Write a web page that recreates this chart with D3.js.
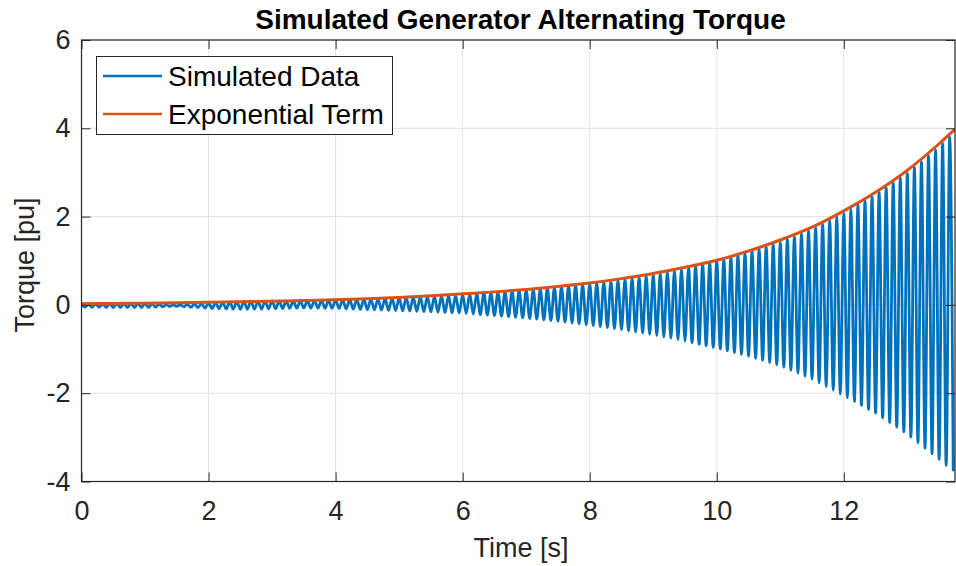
<!DOCTYPE html>
<html lang="en">
<head>
<meta charset="utf-8">
<title>Simulated Generator Alternating Torque</title>
<style>
  body { margin: 0; background: #fff; }
  svg { display: block; font-family: "Liberation Sans", Arial, Helvetica, sans-serif; }
  .tick text { fill: #262626; }
</style>
</head>
<body>
<svg id="chart" width="956" height="566"></svg>
<script src="https://cdn.jsdelivr.net/npm/d3@7"></script>
<script>
// values
const envTime = [0, 0.5, 1, 1.5, 2, 2.5, 3, 3.5, 4, 4.5, 5, 5.5, 6, 6.5, 7, 7.5, 8, 8.5, 9, 9.5, 10, 10.5, 11, 11.5, 12, 12.5, 13, 13.5, 13.75];
const expTerm = [0.028, 0.034, 0.040, 0.048, 0.058, 0.069, 0.082, 0.099, 0.118, 0.142, 0.170, 0.205, 0.250, 0.295, 0.350, 0.418, 0.495, 0.595, 0.712, 0.852, 1.010, 1.220, 1.470, 1.760, 2.130, 2.550, 3.050, 3.650, 3.980];
// upper / lower peaks of the simulated trace
const simUpper = [0.02, 0.03, 0.03, 0.00, 0.04, 0.08, 0.09, 0.09, 0.11, 0.13, 0.16, 0.19, 0.23, 0.28, 0.33, 0.40, 0.48, 0.57, 0.69, 0.83, 0.99, 1.19, 1.42, 1.72, 2.08, 2.49, 2.98, 3.58, 3.92];
const simLower = [-0.05, -0.06, -0.06, -0.03, -0.08, -0.10, -0.09, -0.07, -0.08, -0.11, -0.13, -0.16, -0.19, -0.24, -0.30, -0.37, -0.46, -0.56, -0.68, -0.82, -0.98, -1.16, -1.38, -1.68, -2.06, -2.45, -2.93, -3.50, -3.80];
const oscFreq = 9.0; // Hz, from spike spacing
const xTicks = [0, 2, 4, 6, 8, 10, 12];
const yTicks = [-4, -2, 0, 2, 4, 6];
const seriesNames = ["Simulated Data", "Exponential Term"];
const seriesColors = ["#0072BD", "#D95319"];

const padL = 81.5, padR = 955, padT = 40, padB = 481.5;
const fontSz = 27;
const svg = d3.select("#chart");

const x = d3.scaleLinear().domain([0, 13.75]).range([padL, padR]);
const y = d3.scaleLinear().domain([-4, 6]).range([padB, padT]);

// grid
svg.append("g").selectAll("line").data(xTicks).enter().append("line")
  .attr("x1", d => x(d)).attr("x2", d => x(d))
  .attr("y1", padT).attr("y2", padB)
  .attr("stroke", "#e3e3e3").attr("stroke-width", 1);
svg.append("g").selectAll("line").data(yTicks).enter().append("line")
  .attr("x1", padL).attr("x2", padR)
  .attr("y1", d => y(d)).attr("y2", d => y(d))
  .attr("stroke", "#e3e3e3").attr("stroke-width", 1);

// simulated trace: alternating peaks/troughs along the read envelopes
const upScale = d3.scaleLinear().domain(envTime).range(simUpper);
const loScale = d3.scaleLinear().domain(envTime).range(simLower);
const halfPeriod = 0.5 / oscFreq;
const simPts = [];
for (let k = 0; k * halfPeriod <= 13.75; k++) {
  const t = k * halfPeriod;
  simPts.push([t, k % 2 === 0 ? upScale(t) : loScale(t)]);
}

svg.append("clipPath").attr("id", "clip").append("rect")
  .attr("x", padL).attr("y", padT).attr("width", padR - padL).attr("height", padB - padT);

const plot = svg.append("g").attr("clip-path", "url(#clip)");
plot.append("path")
  .datum(simPts)
  .attr("d", d3.line().x(d => x(d[0])).y(d => y(d[1])).curve(d3.curveMonotoneX))
  .attr("fill", "none")
  .attr("stroke", seriesColors[0])
  .attr("stroke-width", 2.8);

plot.append("path")
  .datum(envTime.map((t, i) => [t, expTerm[i]]))
  .attr("d", d3.line().x(d => x(d[0])).y(d => y(d[1])).curve(d3.curveMonotoneX))
  .attr("fill", "none")
  .attr("stroke", seriesColors[1])
  .attr("stroke-width", 3);

// axes (box with inward ticks)
const tickLen = 9;
svg.append("g").attr("transform", `translate(0,${padB})`)
  .call(d3.axisBottom(x).tickValues(xTicks).tickSizeInner(-tickLen).tickSizeOuter(0).tickPadding(19).tickFormat(d => String(d)))
  .call(g => g.select(".domain").remove())
  .call(g => g.selectAll("line").attr("stroke", "#262626"))
  .call(g => g.selectAll("text").attr("font-size", fontSz).attr("font-family", "Liberation Sans, Arial, sans-serif"));
svg.append("g").attr("transform", `translate(0,${padT})`)
  .call(d3.axisTop(x).tickValues(xTicks).tickSizeInner(-tickLen).tickSizeOuter(0).tickFormat(""))
  .call(g => g.select(".domain").remove())
  .call(g => g.selectAll("line").attr("stroke", "#262626"));
svg.append("g").attr("transform", `translate(${padL},0)`)
  .call(d3.axisLeft(y).tickValues(yTicks).tickSizeInner(-tickLen).tickSizeOuter(0).tickPadding(11).tickFormat(d => String(d)))
  .call(g => g.select(".domain").remove())
  .call(g => g.selectAll("line").attr("stroke", "#262626"))
  .call(g => g.selectAll("text").attr("font-size", fontSz).attr("font-family", "Liberation Sans, Arial, sans-serif"));
svg.append("g").attr("transform", `translate(${padR},0)`)
  .call(d3.axisRight(y).tickValues(yTicks).tickSizeInner(-tickLen).tickSizeOuter(0).tickFormat(""))
  .call(g => g.select(".domain").remove())
  .call(g => g.selectAll("line").attr("stroke", "#262626"));

svg.append("rect")
  .attr("x", padL).attr("y", padT).attr("width", padR - padL).attr("height", padB - padT)
  .attr("fill", "none").attr("stroke", "#262626").attr("stroke-width", 1.2);

// labels
svg.append("text")
  .attr("x", 520.5).attr("y", 28.5)
  .attr("text-anchor", "middle")
  .attr("font-size", 28).attr("font-weight", "bold").attr("fill", "#000")
  .text("Simulated Generator Alternating Torque");
svg.append("text")
  .attr("x", 521).attr("y", 557)
  .attr("text-anchor", "middle")
  .attr("font-size", fontSz).attr("fill", "#262626")
  .text("Time [s]");
svg.append("text")
  .attr("transform", `translate(34,265) rotate(-90)`)
  .attr("text-anchor", "middle")
  .attr("font-size", fontSz).attr("fill", "#262626")
  .text("Torque [pu]");

// legend
const legend = svg.append("g");
legend.append("rect")
  .attr("x", 96.5).attr("y", 56.5).attr("width", 296).attr("height", 78)
  .attr("fill", "#fff").attr("stroke", "#262626").attr("stroke-width", 1);
const items = legend.selectAll("g.item").data(seriesNames).enter().append("g").attr("class", "item")
  .attr("transform", (d, i) => `translate(0,${76 + i * 38})`);
items.append("line")
  .attr("x1", 103).attr("x2", 162).attr("y1", 0).attr("y2", 0)
  .attr("stroke", (d, i) => seriesColors[i]).attr("stroke-width", 2.5);
items.append("text")
  .attr("x", 168).attr("y", 10)
  .attr("font-size", 28).attr("fill", "#000")
  .text(d => d);
</script>
</body>
</html>
